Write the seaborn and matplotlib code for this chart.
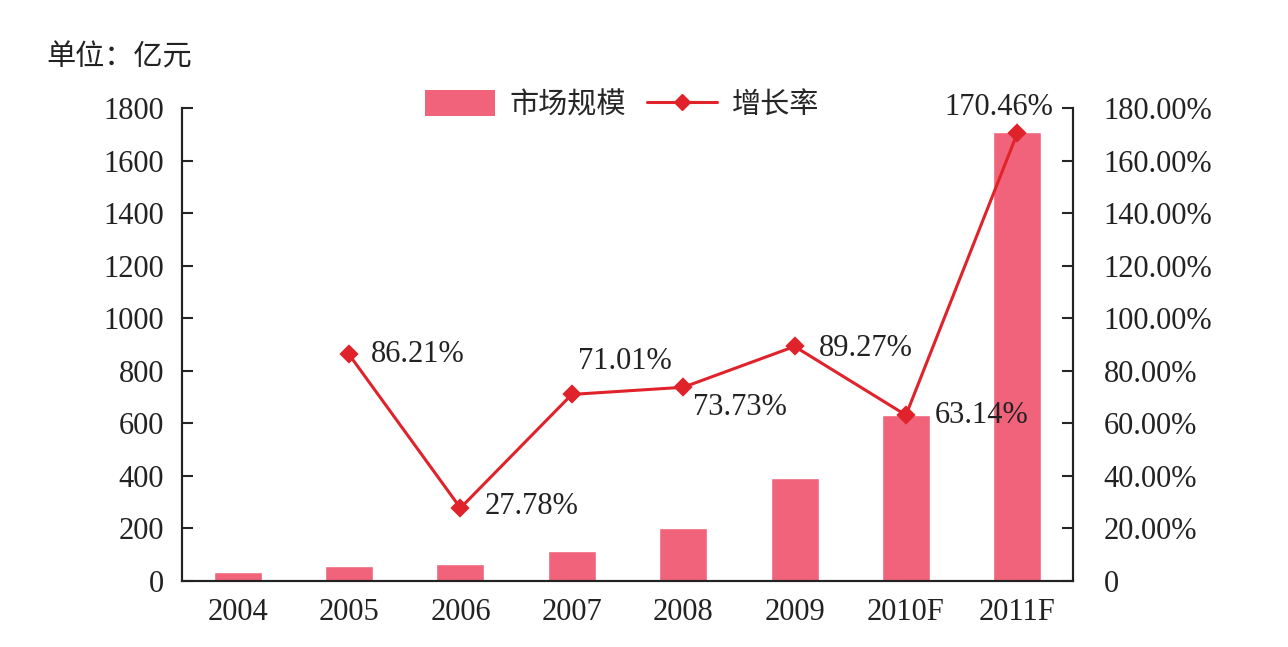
import numpy as np
import pandas as pd
import matplotlib
matplotlib.use('Agg')
import matplotlib.pyplot as plt
import seaborn as sns
from matplotlib.ticker import FuncFormatter, FixedLocator
from matplotlib.patches import Patch
from matplotlib.lines import Line2D

# data
years = ['2004', '2005', '2006', '2007', '2008', '2009', '2010F', '2011F']
market_size = [33, 57, 65, 115, 200, 392, 633, 1710]          # 亿元
growth_rate = [np.nan, 86.21, 27.78, 71.01, 73.73, 89.27, 63.14, 170.46]  # %
growth_labels = ['', '86.21%', '27.78%', '71.01%', '73.73%', '89.27%', '63.14%', '170.46%']
left_ticks = list(range(0, 1801, 200))
right_ticks = [0, 20, 40, 60, 80, 100, 120, 140, 160, 180]

BAR_COLOR = '#F0637A'
LINE_COLOR = '#E0232B'
TXT = '#222222'
FS = 22

sns.set_style('white')
plt.rcParams['font.family'] = ['Liberation Serif', 'Noto Sans CJK SC', 'DejaVu Sans']

df = pd.DataFrame({'year': years, 'size': market_size, 'growth': growth_rate})

fig = plt.figure(figsize=(12.88, 6.47), dpi=100)
ax = fig.add_axes([0.1413, 0.102, 0.6918, 0.731])

sns.barplot(data=df, x='year', y='size', order=years, color=BAR_COLOR,
            width=0.43, saturation=1, ax=ax)
ax.set_ylim(0, 1800)
ax.set_xlim(-0.5, len(years) - 0.5)
ax.set_xlabel(''); ax.set_ylabel('')
ax.yaxis.set_major_locator(FixedLocator(left_ticks))
ax.tick_params(axis='y', direction='in', length=8, width=1.5, labelsize=FS, pad=13,
               labelcolor=TXT)
ax.tick_params(axis='x', which='major', length=0, labelsize=FS, pad=12, labelcolor=TXT)
ax.set_xticks(np.arange(len(years) - 1) + 0.5, minor=True)
ax.tick_params(axis='x', which='minor', direction='in', length=8, width=1.5)

ax2 = ax.twinx()
sns.pointplot(data=df, x='year', y='growth', order=years, color=LINE_COLOR,
              markers='D', markersize=8, linewidth=2.2, ax=ax2)
ax2.set_ylim(0, 180)
ax2.set_xlim(-0.5, len(years) - 0.5)
ax2.set_xlabel(''); ax2.set_ylabel('')
ax2.yaxis.set_major_locator(FixedLocator(right_ticks))
ax2.yaxis.set_major_formatter(FuncFormatter(lambda v, p: '0' if v == 0 else f'{v:.2f}%'))
ax2.tick_params(axis='y', direction='in', length=8, width=1.5, labelsize=FS, pad=22,
                labelcolor=TXT)

for a in (ax, ax2):
    a.spines['top'].set_visible(False)
    for s in ('left', 'right', 'bottom'):
        a.spines[s].set_linewidth(1.5)
        a.spines[s].set_color(TXT)
    a.grid(False)

# data labels
offsets = [None, (22, 0, 'left'), (24, 2, 'left'), (53, 33, 'center'),
           (57, -20, 'center'), (24, -2, 'left'), (29, 0, 'left'), (-19, 26, 'center')]
for i, (lab, off) in enumerate(zip(growth_labels, offsets)):
    if not lab:
        continue
    dx, dy, ha = off
    ax2.annotate(lab, (i, growth_rate[i]), xytext=(dx, dy), textcoords='offset pixels',
                 ha=ha, va='center', fontsize=FS, color=TXT)

handles = [Patch(facecolor=BAR_COLOR, edgecolor='none'),
           Line2D([0], [0], color=LINE_COLOR, lw=2.2, marker='D', markersize=8)]
fig.legend(handles, ['市场规模', '增长率'], loc='center', bbox_to_anchor=(0.483, 0.838),
           ncol=2, frameon=False, fontsize=21, handlelength=2.4, handleheight=1.0,
           columnspacing=0.7, handletextpad=0.5)

fig.text(0.036, 0.91, '单位：亿元', fontsize=21, ha='left', va='center', color=TXT)

fig.savefig('out.png', dpi=100)
